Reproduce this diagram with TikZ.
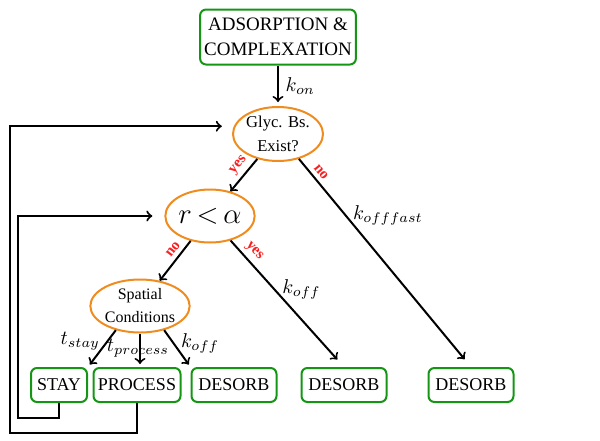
\documentclass[tikz,border=0pt]{standalone}
\usepackage{fontspec}
\setmainfont{Liberation Serif}
\usetikzlibrary{shapes}
\definecolor{boxgreen}{RGB}{20,150,20}
\definecolor{testorange}{RGB}{240,140,30}
\definecolor{ansred}{RGB}{250,30,30}

\begin{document}
\begin{tikzpicture}[x=0.5pt,y=-0.5pt]
    \tikzstyle{state}=[rectangle, rounded corners=3pt, draw=boxgreen, line width=1pt, minimum height=17pt, inner xsep=2pt, align=center, font=\fontsize{9}{11}\selectfont]
    \tikzstyle{test}=[ellipse, draw=testorange, line width=1pt, minimum width=42.5pt, minimum height=27pt, inner sep=0pt, align=center, font=\fontsize{8.3}{11.8}\selectfont]
    \tikzstyle{ans}=[text=ansred, font=\fontsize{7.5}{8}\selectfont\bfseries, sloped, above, inner sep=2pt]
    \tikzstyle{flow}=[->, line width=1pt]
    \useasboundingbox (0,0) rectangle (600,440);
    \node[state, minimum width=77.5pt, minimum height=27.5pt, font=\fontsize{9.5}{12.5}\selectfont] (adsorb) at (278,37) {ADSORPTION \&\\COMPLEXATION};
    \node[test] (glyc) at (278,134) {Glyc. Bs.\\Exist?};
    \node[test, minimum width=43pt, minimum height=26.5pt, font=\fontsize{14}{16}\selectfont] (ralpha) at (210,216) {$r\,{<}\,\alpha$};
    \node[test, minimum width=43pt, minimum height=26.5pt, font=\fontsize{8}{11.5}\selectfont] (spatial) at (140,306) {Spatial\\Conditions};
    \node[state, minimum width=28pt] (stay) at (59,385) {STAY};
    \node[state, minimum width=43.5pt] (process) at (137,385) {PROCESS};
    \node[state, minimum width=42.5pt] (desorbA) at (234,385) {DESORB};
    \node[state, minimum width=42.5pt] (desorbB) at (344,385) {DESORB};
    \node[state, minimum width=42.5pt] (desorbC) at (471,385) {DESORB};
    \draw[flow, shorten >=2pt] (adsorb) -- node[right] {$k_{on}$} (glyc);
    \draw[flow] (glyc) -- node[ans, pos=0.4] {yes} (ralpha);
    \draw[flow, shorten >=5pt] (glyc.-50) -- node[ans, pos=0.09] {no} node[pos=0.27, right] {$k_{offfast}$} (desorbC.north);
    \draw[flow] (ralpha) -- node[ans, pos=0.35] {no} (spatial);
    \draw[flow, shorten >=5pt] (ralpha.-50) -- node[ans, pos=0.14] {yes} node[pos=0.39, right] {$k_{off}$} (desorbB.north);
    \draw[flow, shorten >=1.5pt] (spatial.-135) -- node[pos=0.3, left] {$t_{stay}$} (stay.north east);
    \draw[flow, shorten >=1.5pt] (spatial.south) -- node[pos=0.45, xshift=-1pt] {$t_{process}$} (spatial.south |- process.north);
    \draw[flow, shorten >=1.5pt] (spatial.-45) -- node[pos=0.35, right] {$k_{off}$} (desorbA.north west);
    \draw[flow, shorten >=6pt] (stay.south) -- ++(0,15) -- ++(-41,0) |- (ralpha.west);
    \draw[flow, shorten >=6pt] (process.south) -- ++(0,30) -- ++(-127,0) |- (glyc.170);
\end{tikzpicture}
\end{document}
